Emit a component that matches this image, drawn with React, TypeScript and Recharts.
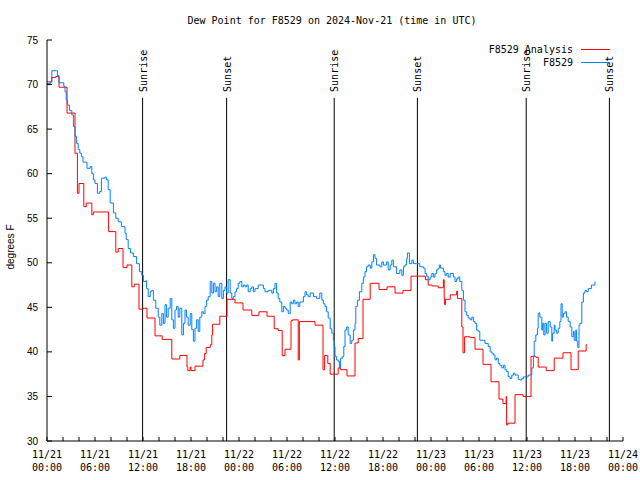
import React from 'react';
import { LineChart, Line, XAxis, YAxis, ReferenceLine } from 'recharts';

// hours since 2024-11-21 00:00 UTC
const analysisHours = [0, 0.6, 1.1, 1.5, 2.5, 3.5, 3.8, 4.0, 4.6, 4.9, 5.6, 5.8, 7.7, 8.6, 8.9, 9.5, 10.0, 10.6, 10.9, 11.5,
  12.0, 12.5, 13.5, 14.4, 15.6, 16.6, 17.5, 17.6, 17.9, 18.0, 18.5, 19.5, 19.7, 19.9, 20.4, 20.6, 20.7, 21.6, 22.5, 23.5,
  24.5, 25.6, 26.5, 27.5, 28.4, 28.9, 29.4, 29.75, 30.5, 30.7, 31.4, 31.55, 33.5, 34.5, 34.7, 35.1, 35.4, 36.4, 36.7, 37.5,
  38.5, 38.9, 39.5, 40.4, 41.5, 42.5, 43.5, 44.5, 45.5, 47.3, 47.65, 48.1, 48.9, 49.55, 49.65, 49.7, 49.8, 50.4, 51.2, 51.3,
  51.85, 52.0, 52.2, 52.9, 53.5, 54.5, 55.5, 56.5, 57.0, 57.4, 57.45, 57.6, 58.5, 59.5, 60.5, 61.1, 61.4, 62.4, 63.4, 64.5,
  65.5, 66.4, 67.4, 67.5];
const analysisValues = [70.3, 70.8, 70.9, 69.7, 66.8, 62.3, 57.8, 58.9, 56.3, 56.7, 55.4, 55.7, 53.5, 51.2, 51.6, 49.45, 49.75, 47.3, 47.6, 44.8,
  44.9, 43.8, 41.8, 41.4, 39.2, 39.6, 38.3, 37.9, 38.3, 37.9, 38.4, 39.1, 39.8, 40.5, 40.8, 41.9, 43.1, 44.0, 45.9, 45.5,
  44.7, 44.1, 44.5, 44.0, 42.6, 42.4, 39.6, 40.3, 43.5, 43.6, 39.1, 43.4, 43.0, 38.0, 39.6, 38.7, 37.5, 38.2, 38.0, 37.3,
  41.0, 41.5, 45.9, 47.7, 47.0, 47.3, 46.6, 46.9, 48.5, 48.1, 47.5, 47.4, 47.2, 48.1, 46.0, 45.3, 45.9, 46.4, 46.8, 46.0,
  42.8, 39.9, 41.7, 41.6, 40.3, 38.6, 36.65, 34.7, 34.2, 35.0, 31.8, 32.0, 35.2, 35.0, 39.5, 39.4, 38.3, 37.9, 39.3, 39.9,
  38.0, 40.1, 40.8, 40.8];

const obsHours = [0, 0.4, 0.6, 1.2, 1.3, 1.5, 2.0, 2.1, 2.25, 2.4, 2.55, 2.8, 3.1, 3.3, 3.5, 3.7, 3.9, 4.1, 4.3, 4.5,
  5.0, 5.4, 5.6, 5.8, 6.0, 6.3, 6.6, 6.8, 7.25, 7.45, 7.65, 7.9, 8.3, 8.6, 8.9, 9.3, 9.75, 9.9, 10.15, 10.45,
  10.8, 11.2, 11.55, 11.85, 12.05, 12.4, 12.45, 12.65, 12.9, 13.1, 13.3, 13.6, 13.9, 14.1, 14.35, 14.55, 14.75, 14.95, 15.15, 15.4,
  15.6, 15.8, 16.0, 16.2, 16.4, 16.6, 16.85, 17.05, 17.25, 17.45, 17.65, 17.9, 18.1, 18.3, 18.5, 18.7, 18.9, 19.1, 19.35, 19.55,
  19.75, 19.95, 20.15, 20.4, 20.6, 20.8, 21.0, 21.2, 21.4, 21.6, 21.85, 22.05, 22.25, 22.45, 22.65, 22.9, 23.1, 23.3, 23.5, 23.7,
  23.9, 24.1, 24.35, 24.55, 24.75, 24.95, 25.15, 25.4, 25.6, 25.8, 26.0, 26.4, 26.85, 27.05, 27.25, 27.65, 27.9, 28.1, 28.3, 28.5,
  28.7, 28.9, 29.1, 29.35, 29.55, 29.75, 29.95, 30.15, 30.4, 30.6, 30.8, 31.0, 31.2, 31.4, 31.6, 32.05, 32.25, 32.45, 32.65, 32.9,
  33.3, 33.7, 34.1, 34.35, 34.55, 34.75, 34.95, 35.15, 35.4, 35.6, 35.8, 35.9, 36.0, 36.2, 36.4, 36.55, 36.7, 36.95, 37.1, 37.25,
  37.45, 37.65, 37.9, 38.1, 38.3, 38.5, 38.6, 38.8, 39.05, 39.35, 39.55, 39.75, 39.95, 40.15, 40.4, 40.6, 40.8, 41.0, 41.2, 41.6,
  41.85, 42.05, 42.45, 42.65, 42.9, 43.1, 43.3, 43.7, 44.1, 44.35, 44.55, 44.75, 44.95, 45.05, 45.3, 45.6, 45.8, 46.2, 46.6, 47.05,
  47.25, 47.45, 47.65, 47.9, 48.1, 48.3, 48.5, 48.7, 48.9, 49.05, 49.2, 49.55, 49.75, 49.95, 50.15, 50.4, 50.8, 51.0, 51.2, 51.4,
  51.6, 51.85, 52.05, 52.25, 52.45, 52.65, 52.9, 53.1, 53.3, 53.5, 53.7, 53.9, 54.1, 54.55, 54.75, 55.15, 55.4, 55.6, 55.8, 56.0,
  56.2, 56.4, 56.6, 56.85, 57.05, 57.25, 57.45, 57.65, 57.9, 58.1, 58.3, 58.5, 58.9, 59.1, 59.35, 59.55, 59.95, 60.15, 60.4, 60.6,
  60.8, 60.9, 61.1, 61.3, 61.4, 61.55, 61.6, 61.85, 61.95, 62.1, 62.25, 62.45, 62.65, 62.9, 63.1, 63.2, 63.4, 63.5, 63.7, 63.9,
  64.1, 64.25, 64.4, 64.55, 64.75, 64.95, 65.15, 65.4, 65.6, 65.8, 65.9, 66.1, 66.2, 66.35, 66.5, 66.6, 66.85, 67.05, 67.25, 67.45,
  67.65, 68.05, 68.5];
const obsValues = [70.1, 70.3, 71.55, 71.55, 71.0, 70.2, 70.2, 69.8, 69.2, 68.3, 67.7, 67.1, 66.6, 65.3, 64.2, 63.4, 62.7, 62.3, 61.9, 61.3,
  60.6, 60.8, 60.0, 59.3, 58.9, 57.8, 58.0, 59.5, 59.6, 59.3, 58.2, 56.7, 55.6, 55.0, 54.6, 54.05, 53.3, 52.6, 51.6, 51.1,
  50.7, 49.9, 49.0, 48.6, 47.9, 48.0, 47.1, 46.2, 46.75, 46.9, 45.8, 44.9, 43.9, 43.0, 44.3, 43.2, 45.3, 43.9, 44.9, 46.0,
  43.6, 42.65, 44.7, 45.1, 43.9, 44.9, 41.9, 43.2, 44.7, 43.9, 43.0, 44.3, 42.5, 41.2, 42.65, 43.6, 42.3, 43.9, 44.5, 44.3,
  45.1, 45.8, 46.2, 47.9, 46.6, 47.7, 46.75, 47.3, 46.2, 47.7, 46.0, 46.9, 47.3, 46.6, 48.1, 46.6, 46.0, 46.2, 46.75, 47.1,
  47.7, 47.9, 47.3, 47.5, 47.3, 47.5, 46.75, 47.1, 47.3, 46.75, 47.1, 47.5, 47.5, 47.1, 46.75, 46.9, 46.9, 46.6, 47.1, 47.7,
  46.6, 46.0, 45.6, 44.5, 45.1, 44.9, 44.7, 44.3, 45.6, 45.4, 45.8, 45.4, 45.6, 45.1, 45.6, 46.2, 46.75, 46.4, 46.2, 46.6,
  46.2, 46.0, 46.6, 45.8, 45.4, 45.1, 44.5, 43.8, 42.6, 42.1, 41.3, 40.6, 39.5, 39.1, 38.9, 38.2, 39.3, 39.5, 40.6, 42.45,
  42.8, 41.9, 40.95, 41.3, 42.45, 43.2, 45.1, 45.8, 46.75, 47.7, 48.4, 49.0, 49.55, 49.75, 49.4, 50.1, 50.9, 50.5, 49.75, 49.55,
  50.1, 49.75, 50.1, 49.2, 49.75, 50.3, 49.55, 48.8, 49.2, 48.6, 49.55, 49.75, 50.5, 51.1, 49.9, 50.3, 49.9, 49.9, 49.55, 49.4,
  48.8, 48.5, 48.1, 48.4, 48.8, 48.4, 48.8, 49.2, 49.4, 49.75, 49.4, 49.0, 48.6, 48.8, 48.4, 48.8, 48.4, 47.9, 48.2, 48.4,
  47.9, 46.9, 45.8, 44.5, 44.1, 43.8, 43.6, 43.9, 43.4, 43.2, 42.45, 42.3, 41.3, 41.3, 40.95, 40.6, 40.0, 39.85, 39.65, 39.1,
  39.3, 38.7, 38.5, 38.2, 38.5, 38.0, 37.8, 37.2, 37.0, 37.4, 37.6, 37.4, 36.9, 36.85, 37.0, 37.2, 37.2, 37.4, 37.4, 38.2,
  39.5, 41.2, 41.9, 42.65, 44.3, 44.4, 43.9, 42.45, 43.2, 41.9, 43.2, 42.1, 43.4, 42.8, 41.2, 42.1, 43.0, 42.45, 42.1, 42.65,
  43.4, 45.4, 43.9, 44.3, 44.5, 43.9, 43.4, 42.8, 41.7, 42.3, 41.3, 42.45, 41.2, 40.5, 43.0, 43.2, 45.6, 46.6, 46.9, 46.75,
  47.1, 47.5, 47.9];

const sunHours = [11.95, 22.45, 35.9, 46.3, 59.9, 70.3];
const sunNames = ['Sunrise', 'Sunset', 'Sunrise', 'Sunset', 'Sunrise', 'Sunset'];
const xTicks = [0, 2, 4, 6, 8, 10, 12, 14, 16, 18, 20, 22, 24, 26, 28, 30, 32, 34, 36, 38, 40, 42, 44, 46, 48,
  50, 52, 54, 56, 58, 60, 62, 64, 66, 68, 70, 72];
const yTicks = [30, 35, 40, 45, 50, 55, 60, 65, 70, 75];

const ANALYSIS = { name: 'F8529 Analysis', color: '#ff0000' };
const OBS = { name: 'F8529', color: '#0080ff' };

const MONO = '"DejaVu Sans Mono", monospace';
const SANS = '"Liberation Sans", Arial, sans-serif';

const analysisData = analysisHours.map((h, i) => ({ h, v: analysisValues[i] }));
const obsData = obsHours.map((h, i) => ({ h, v: obsValues[i] }));

const pad = (n: number) => (n < 10 ? '0' + n : '' + n);

const BottomTick = ({ x, y, payload }: any) => {
  const v = payload.value;
  return (
    <g>
      <line x1={x} x2={x} y1={y} y2={y - 4} stroke="#000" />
      {v % 6 === 0 && (
        <text fontFamily={MONO} fontSize={10} textAnchor="middle" fill="#000">
          <tspan x={x} y={y + 16.5}>{'11/' + (21 + Math.floor(v / 24))}</tspan>
          <tspan x={x} y={y + 30}>{pad(v % 24) + ':00'}</tspan>
        </text>
      )}
    </g>
  );
};

const TopTick = ({ x, y }: any) => <line x1={x} x2={x} y1={y} y2={y + 4} stroke="#000" />;

const LeftTick = ({ x, y, payload }: any) => (
  <g>
    <line x1={x} x2={x + 5} y1={y} y2={y} stroke="#000" />
    <text x={x - 9} y={y + 3.5} textAnchor="end" fontFamily={SANS} fontSize={10} fill="#000">{payload.value}</text>
  </g>
);

const RightTick = ({ x, y }: any) => <line x1={x} x2={x - 5} y1={y} y2={y} stroke="#000" />;

const SunLabel = ({ viewBox, text }: any) => (
  <text transform={`translate(${viewBox.x + 4},${viewBox.y - 6}) rotate(-90)`} fontFamily={MONO} fontSize={10} fill="#000">
    {text}
  </text>
);

export default function App() {
  return (
    <div style={{ position: 'absolute', left: 0, top: 0, width: 640, height: 480, background: '#fff' }}>
      <LineChart width={640} height={480} margin={{ top: 40, right: 17, bottom: 0, left: 0 }}>
        <XAxis dataKey="h" type="number" domain={[0, 72]} ticks={xTicks} interval={0} height={39}
          allowDataOverflow axisLine={{ stroke: '#000' }} tickLine={false} tickSize={0} tickMargin={0} tick={<BottomTick />} />
        <XAxis xAxisId="t" orientation="top" dataKey="h" type="number" domain={[0, 72]} ticks={xTicks} interval={0} height={0}
          allowDataOverflow axisLine={{ stroke: '#000' }} tickLine={false} tickSize={0} tickMargin={0} tick={<TopTick />} />
        <YAxis type="number" domain={[30, 75]} ticks={yTicks} interval={0} width={47} allowDataOverflow
          axisLine={{ stroke: '#000' }} tickLine={false} tickSize={0} tickMargin={0} tick={<LeftTick />} />
        <YAxis yAxisId="r" orientation="right" type="number" domain={[30, 75]} ticks={yTicks} interval={0} width={0}
          allowDataOverflow axisLine={{ stroke: '#000' }} tickLine={false} tickSize={0} tickMargin={0} tick={<RightTick />} />
        {sunHours.map((t, i) => (
          <ReferenceLine key={i} segment={[{ x: t, y: 30 }, { x: t, y: 68.5 }]} stroke="#000" strokeWidth={1}
            label={<SunLabel text={sunNames[i]} />} />
        ))}
        <Line data={analysisData} dataKey="v" name={ANALYSIS.name} type="stepAfter" stroke={ANALYSIS.color}
          strokeWidth={1} dot={false} isAnimationActive={false} />
        <Line data={obsData} dataKey="v" name={OBS.name} type="stepAfter" stroke={OBS.color}
          strokeWidth={1} dot={false} isAnimationActive={false} />
      </LineChart>
      <svg width={640} height={480} style={{ position: 'absolute', left: 0, top: 0, pointerEvents: 'none' }}>
        <text x={332} y={24} textAnchor="middle" fontFamily={MONO} fontSize={10} fill="#000">
          Dew Point for F8529 on 2024-Nov-21 (time in UTC)
        </text>
        <text transform="translate(14,247) rotate(-90)" textAnchor="middle" fontFamily={SANS} fontSize={10} fill="#000">
          degrees F
        </text>
        {[ANALYSIS, OBS].map((s, i) => (
          <g key={s.name}>
            <text x={573} y={53 + i * 13} textAnchor="end" fontFamily={MONO} fontSize={10} fill="#000">{s.name}</text>
            <line x1={581} x2={610} y1={49.5 + i * 13} y2={49.5 + i * 13} stroke={s.color} />
          </g>
        ))}
      </svg>
    </div>
  );
}
